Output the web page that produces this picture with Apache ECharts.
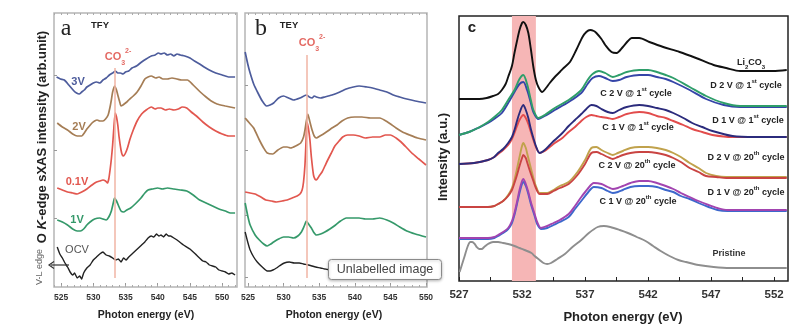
<!DOCTYPE html>
<html><head><meta charset="utf-8">
<script src="https://cdn.jsdelivr.net/npm/echarts@6/dist/echarts.min.js"></script>
<style>html,body{margin:0;padding:0;background:#fff}#c{width:810px;height:331px}</style>
</head><body><div id="c"></div>
<script>
// ---------- tick labels ----------
const ticksAB = [525, 530, 535, 540, 545, 550];
const minorAB = [524,525,526,527,528,529,530,531,532,533,534,535,536,537,538,539,540,541,542,543,544,545,546,547,548,549,550,551,552];
const ticksC = [527, 532, 537, 542, 547, 552];
const minorC = [527, 529.5, 532, 534.5, 537, 539.5, 542, 544.5, 547, 549.5, 552];
const co3Energy = 533.3;
const bandC = [531.2, 533.1];

// ---------- panel a (TFY) : [photon energy eV, intensity arb.] ----------
const tfy3V = [[524.3,210],[524.9,208],[525.5,207],[526.2,202],[527.0,196],[527.4,194],[527.8,193],[528.2,195],[528.6,197],[529.0,200],[529.5,202],[530.0,204],[530.5,205],[531.0,204],[531.5,207],[532.0,209],[532.5,212],[533.0,214],[533.4,216],[533.8,214],[534.2,214],[534.6,213],[535.0,215],[535.5,216],[536.0,219],[536.7,221],[537.5,225],[538.2,228],[539.0,231],[539.6,232],[540.1,234],[540.5,233],[541.0,234],[541.5,232],[542.0,233],[542.5,231],[543.0,233],[543.5,232],[544.2,231],[545.0,229],[545.7,226],[546.5,223],[547.2,220],[548.0,217],[549.0,214],[550.0,212],[551.0,210],[552.0,210]];
const tfy2V = [[524.4,164],[525.2,160],[526.0,157],[526.8,153],[527.5,151],[528.2,151],[528.6,154],[529.0,158],[529.4,161],[529.8,164],[530.2,166],[530.6,167],[531.0,166],[531.5,166],[531.9,168],[532.3,172],[532.6,180],[532.8,187],[533.0,195],[533.3,201],[533.6,197],[533.8,192],[534.1,185],[534.3,181],[534.6,182],[534.8,183],[535.2,185],[535.5,187],[536.2,191],[536.8,195],[537.4,201],[538.0,208],[538.5,210],[539.0,211],[539.7,209],[540.2,210],[540.8,208],[541.5,208],[542.2,209],[543.0,208],[543.7,207],[544.6,207],[545.5,202],[546.6,195],[547.5,190],[548.3,186],[549.2,183],[550.5,181],[552.0,179]];
const tfy01V = [[524.4,99],[525.2,97],[526.0,95],[526.8,94],[527.5,93],[528.2,95],[529.0,98],[529.8,102],[530.5,105],[531.0,106],[531.5,107],[531.9,106],[532.2,104],[532.4,108],[532.6,117],[532.8,128],[533.0,142],[533.2,160],[533.4,174],[533.6,170],[533.8,162],[534.0,150],[534.3,137],[534.5,132],[534.7,131],[535.0,134],[535.3,139],[535.7,148],[536.2,157],[536.8,166],[537.5,173],[538.2,177],[539.0,180],[539.6,178],[540.0,179],[540.5,179],[541.2,177],[541.8,178],[542.5,177],[543.2,178],[543.8,180],[544.5,179],[545.2,175],[546.0,171],[547.0,165],[548.0,160],[549.0,156],[550.0,153],[551.0,151],[552.0,151]];
const tfy1V = [[524.4,67],[525.2,65],[526.0,62],[526.8,58],[527.5,56],[528.0,56],[528.5,58],[529.0,62],[529.5,65],[530.2,68],[531.0,69],[531.5,68],[532.0,67],[532.4,70],[532.8,76],[533.1,84],[533.3,89],[533.6,86],[534.0,80],[534.3,76],[534.7,75],[535.2,77],[535.8,79],[536.5,83],[537.4,89],[538.0,94],[538.5,97],[539.2,98],[540.0,99],[540.7,98],[541.5,99],[542.5,98],[543.5,97],[544.5,96],[545.5,92],[546.5,87],[547.5,84],[548.5,81],[549.5,78],[550.5,76],[551.3,74],[552.0,74]];
const tfyOCV = [[524.4,40],[524.8,33],[525.2,29],[525.6,24],[526.0,20],[526.4,15],[526.8,12],[527.1,14],[527.5,9],[527.9,11],[528.2,8],[528.5,14],[529.0,19],[529.5,22],[530.0,27],[530.5,30],[531.0,33],[531.5,35],[532.0,32],[532.5,31],[533.0,29],[533.5,27],[533.9,28],[534.3,25],[534.7,29],[535.1,27],[535.5,30],[536.0,33],[536.5,36],[537.0,39],[537.5,42],[538.0,45],[538.5,49],[539.0,51],[539.4,50],[539.8,53],[540.2,51],[540.5,52],[540.9,50],[541.3,53],[541.7,51],[542.0,51],[542.5,49],[543.2,46],[544.0,42],[545.0,38],[546.0,32],[547.0,26],[547.5,25],[548.0,22],[549.0,20],[549.5,17],[550.0,16],[550.5,15],[551.0,13],[551.5,14],[552.0,12]];

// ---------- panel b (TEY) ----------
const tey3V = [[524.6,235],[525.0,222],[525.3,214],[525.8,203],[526.4,194],[527.0,186],[527.6,181],[528.1,182],[528.6,184],[529.3,189],[530.0,191],[530.7,189],[531.4,187],[532.3,189],[533.2,192],[533.6,190],[534.0,189],[534.3,191],[534.6,190],[535.2,189],[535.8,190],[536.8,192],[537.9,195],[538.8,198],[539.8,200],[540.6,201],[541.7,200],[542.5,199],[543.5,197],[544.5,195],[545.4,192],[546.3,190],[547.3,188],[548.5,186],[550.0,184]];
const tey2V = [[524.6,169],[525.2,164],[525.8,159],[526.6,147],[527.2,139],[527.7,134],[528.5,133],[529.2,137],[530.0,140],[530.5,140],[531.0,139],[531.7,141],[532.4,144],[532.8,150],[533.0,157],[533.2,166],[533.4,173],[533.7,165],[534.0,157],[534.3,151],[534.6,149],[535.1,151],[535.8,154],[536.6,158],[537.5,162],[538.2,166],[539.0,169],[540.0,170],[541.0,170],[542.2,169],[543.5,169],[544.6,165],[545.8,159],[546.7,155],[547.7,152],[548.8,149],[550.0,147]];
const tey01V = [[524.6,95],[525.3,94],[526.0,93],[526.8,90],[527.5,87],[528.3,86],[529.0,85],[529.8,86],[530.5,87],[531.2,89],[531.9,91],[532.3,93],[532.6,97],[532.8,105],[533.0,122],[533.15,145],[533.3,165],[533.5,158],[533.7,147],[533.9,130],[534.2,112],[534.4,108],[534.6,107],[535.0,111],[535.4,115],[535.8,121],[536.2,127],[536.7,134],[537.2,141],[537.8,146],[538.3,150],[539.0,152],[539.8,152],[540.6,151],[541.5,149],[542.5,150],[543.5,150],[544.3,152],[545.0,152],[545.8,149],[546.5,145],[547.2,140],[548.0,134],[549.0,128],[550.0,122]];
const tey1V = [[524.6,84],[525.0,70],[525.3,62],[526.0,52],[526.6,47],[527.2,43],[527.7,41],[528.2,43],[528.6,45],[529.3,48],[530.0,50],[530.7,50],[531.4,49],[532.0,51],[532.5,55],[532.9,61],[533.2,66],[533.5,63],[533.9,59],[534.2,55],[534.6,52],[535.2,53],[535.8,55],[536.5,58],[537.3,62],[538.0,66],[538.8,69],[539.7,69],[540.6,69],[541.5,68],[542.5,68],[543.5,69],[544.5,67],[545.4,64],[546.3,60],[547.3,56],[548.5,53],[550.0,50]];
const teyOCV = [[524.6,55],[525.0,44],[525.3,37],[525.8,30],[526.3,25],[527.0,20],[527.7,16],[528.1,16],[528.5,17],[529.0,19],[529.4,21],[530.1,24],[530.8,25],[531.5,24],[532.2,24],[532.8,23],[533.5,22],[534.0,21],[534.5,20],[535.2,19],[535.8,18],[536.6,17],[537.5,17],[538.7,18],[540.0,19],[541.5,19],[543.0,18],[544.5,16],[546.0,14],[548.0,12],[550.0,11]];

// ---------- panel c ----------
const cLi2CO3 = [[527.0,182],[528.0,182],[528.6,182],[529.2,183],[529.7,185],[530.1,187],[530.4,191],[530.7,197],[530.9,204],[531.2,215],[531.4,228],[531.6,240],[531.8,251],[532.0,258],[532.1,259],[532.3,256],[532.5,248],[532.7,232],[532.9,214],[533.1,201],[533.3,194],[533.6,189],[533.9,193],[534.2,198],[534.6,204],[535.0,209],[535.3,213],[535.8,219],[536.3,231],[536.8,244],[537.1,249],[537.4,251],[537.7,250],[537.9,248],[538.3,242],[538.6,236],[539.1,229],[539.5,228],[540.0,234],[540.4,240],[540.7,243],[541.3,243],[542.1,239],[543.2,234],[544.5,229],[545.8,223],[547.2,216],[548.2,213],[549.3,210],[550.6,210],[551.9,210],[553.0,211]];
const cD2V1 = [[527.0,146],[527.8,149],[528.5,153],[529.3,159],[529.9,165],[530.4,171],[531.0,183],[531.4,191],[531.8,202],[532.1,206],[532.4,197],[532.7,181],[532.9,171],[533.3,163],[533.8,166],[534.6,173],[535.7,181],[536.7,191],[537.2,201],[537.6,207],[538.1,210],[538.6,208],[539.2,204],[539.7,206],[540.3,209],[541.3,211],[542.0,211],[542.7,209],[543.4,206],[544.0,203],[545.3,194],[546.6,185],[548.0,178],[549.3,175],[551.0,175],[553.0,175]];
const cC2V1 = [[527.0,146],[527.8,149],[528.5,153],[529.3,158],[529.9,163],[530.4,168],[531.0,180],[531.4,189],[531.8,197],[532.1,199],[532.4,191],[532.7,178],[532.9,169],[533.3,162],[533.8,165],[534.6,171],[535.7,179],[536.7,188],[537.2,197],[537.6,203],[538.1,205],[538.6,203],[539.2,200],[539.7,201],[540.3,204],[541.3,206],[542.0,206],[542.7,204],[543.4,202],[544.0,199],[545.3,191],[546.6,182],[548.0,176],[549.3,174],[551.0,174],[553.0,174]];
const cD1V1 = [[527.0,117],[528.2,118],[529.3,121],[529.8,124],[530.1,128],[530.5,132],[530.9,138],[531.2,144],[531.4,151],[531.6,160],[531.8,168],[532.1,176],[532.3,171],[532.5,163],[532.7,152],[532.9,143],[533.1,135],[533.4,128],[533.8,131],[534.2,136],[534.6,141],[535.2,148],[535.7,155],[536.2,161],[536.7,167],[537.1,172],[537.5,176],[537.9,175],[538.3,172],[538.8,169],[539.2,168],[539.7,171],[540.3,174],[541.3,176],[542.0,175],[542.7,173],[543.4,171],[544.0,168],[544.8,163],[545.5,158],[546.3,154],[547.1,150],[548.7,145],[550.5,144],[553.0,144]];
const cC1V1 = [[527.0,117],[528.2,118],[529.3,121],[529.8,124],[530.1,127],[530.5,131],[530.9,136],[531.2,142],[531.4,148],[531.6,155],[531.8,161],[532.1,166],[532.3,163],[532.5,157],[532.7,149],[532.9,141],[533.1,134],[533.4,128],[533.8,130],[534.2,134],[534.6,138],[535.2,143],[535.7,149],[536.2,154],[536.7,160],[537.1,164],[537.5,166],[537.9,165],[538.3,164],[538.8,163],[539.2,162],[539.7,164],[540.3,167],[541.3,169],[542.0,168],[542.7,165],[543.4,163],[544.0,160],[544.8,156],[545.5,152],[546.3,149],[547.1,146],[548.7,144],[550.5,144],[553.0,144]];
const cD2V20 = [[527.0,74],[528.2,74],[529.3,74],[529.8,75],[530.1,77],[530.5,80],[530.9,86],[531.2,93],[531.4,101],[531.6,112],[531.8,124],[532.0,135],[532.1,138],[532.3,133],[532.4,128],[532.6,118],[532.9,103],[533.1,95],[533.4,88],[534.0,88],[534.5,91],[535.0,95],[535.7,99],[536.4,109],[537.0,121],[537.5,133],[537.9,134],[538.3,131],[538.8,128],[539.2,126],[539.6,128],[540.0,130],[540.6,133],[541.3,134],[542.0,134],[542.7,133],[543.4,131],[544.0,128],[544.6,124],[545.3,118],[546.0,113],[546.6,108],[547.4,105],[548.2,104],[550.0,104],[553.0,104]];
const cC2V20 = [[527.0,74],[528.2,74],[529.3,74],[529.8,75],[530.1,77],[530.5,80],[530.9,85],[531.2,91],[531.4,98],[531.6,106],[531.8,115],[532.0,123],[532.1,126],[532.3,123],[532.4,119],[532.6,111],[532.9,100],[533.1,93],[533.4,87],[534.0,87],[534.5,90],[535.0,93],[535.7,97],[536.4,106],[537.0,117],[537.5,128],[537.9,129],[538.3,127],[538.8,124],[539.2,122],[539.6,124],[540.0,126],[540.6,128],[541.3,129],[542.0,129],[542.7,128],[543.4,126],[544.0,123],[544.6,119],[545.3,113],[546.0,109],[546.6,105],[547.4,104],[548.2,103],[550.0,103],[553.0,103]];
const cD1V20 = [[527.0,43],[528.2,43],[529.3,43],[529.8,44],[530.1,46],[530.5,49],[530.9,53],[531.2,60],[531.4,68],[531.6,79],[531.8,91],[532.0,100],[532.1,102],[532.3,97],[532.5,89],[532.7,79],[533.0,67],[533.2,59],[533.5,53],[534.0,55],[534.5,58],[535.0,61],[535.7,67],[536.2,75],[536.7,84],[537.2,92],[537.7,98],[538.3,97],[538.8,94],[539.2,92],[539.6,93],[540.0,95],[540.6,98],[541.3,100],[542.0,100],[542.7,98],[543.4,95],[544.0,92],[544.6,88],[545.3,84],[546.0,80],[546.8,76],[547.5,73],[548.3,71],[550.0,71],[553.0,71]];
const cC1V20 = [[527.0,42],[528.2,42],[529.3,42],[529.8,43],[530.1,45],[530.5,48],[530.9,52],[531.2,58],[531.4,66],[531.6,77],[531.8,88],[532.0,97],[532.1,99],[532.3,95],[532.5,87],[532.7,77],[533.0,65],[533.2,57],[533.5,52],[534.0,53],[534.5,56],[535.0,59],[535.7,64],[536.2,72],[536.7,80],[537.2,88],[537.7,94],[538.3,93],[538.8,90],[539.2,88],[539.6,89],[540.0,91],[540.6,94],[541.3,95],[542.0,95],[542.7,94],[543.4,91],[544.0,89],[544.6,85],[545.3,82],[546.0,78],[546.8,74],[547.5,71],[548.3,70],[550.0,70],[553.0,70]];
const cPristine = [[527.05,9],[527.25,17],[527.45,25],[527.7,35],[527.9,39],[528.05,39],[528.25,37],[528.4,34],[528.6,32],[528.8,32],[529.0,34],[529.3,37],[529.7,39],[530.1,39],[530.5,38],[530.9,37],[531.4,35],[531.8,33],[532.2,31],[532.75,28],[533.0,25],[533.4,21],[533.7,18],[534.0,17],[534.3,18],[534.8,22],[535.4,27],[536.0,34],[536.7,41],[537.3,48],[538.0,54],[538.5,55],[539.0,54],[539.75,51],[540.4,48],[541.1,44],[541.8,40],[542.4,35],[543.0,30],[543.7,25],[544.4,21],[545.0,19],[546.0,16],[547.2,14],[548.5,13],[549.8,13],[551.5,13],[553.0,13]];

const FONT = '"Liberation Sans", Arial, sans-serif';
const chart = echarts.init(document.getElementById('c'), null, {renderer: 'canvas'});

function ln(data, xi, yi, color, width, z, smooth) {
  return {type: 'line', data, xAxisIndex: xi, yAxisIndex: yi, showSymbol: false, silent: true,
    smooth: smooth, z: z || 3, lineStyle: {color, width}, animation: false};
}
function xMain(grid, min, max, labels, ticks, tickColor, fs, margin, tickLen) {
  return {type: 'value', gridIndex: grid, min, max, position: 'bottom',
    axisLine: {show: false}, splitLine: {show: false},
    axisTick: {show: true, inside: true, length: tickLen, customValues: ticks, lineStyle: {color: tickColor, width: 1}},
    axisLabel: {show: true, customValues: labels, fontSize: fs, fontWeight: 'bold', color: '#333', fontFamily: FONT, margin}};
}
function xTicksOnly(grid, min, max, pos, ticks, len, color) {
  return {type: 'value', gridIndex: grid, min, max, position: pos,
    axisLine: {show: false}, splitLine: {show: false}, axisLabel: {show: false},
    axisTick: {show: true, inside: true, length: len, customValues: ticks, lineStyle: {color, width: 1}}};
}
function yAx(grid, max, ticks, color) {
  return {type: 'value', gridIndex: grid, min: 0, max,
    axisLine: {show: false}, splitLine: {show: false}, axisLabel: {show: false},
    axisTick: {show: ticks.length > 0, inside: true, length: 3, customValues: ticks, lineStyle: {color, width: 1}}};
}
function txt(x, y, text, opts) {
  const o = Object.assign({fontSize: 10, fontWeight: 'bold', fill: '#222', rot: 0, align: 'center', family: FONT, rich: null, z: 50}, opts || {});
  const style = {text, x: 0, y: 0, fill: o.fill, fontSize: o.fontSize, fontWeight: o.fontWeight, fontFamily: o.family,
    align: o.align, verticalAlign: 'middle'};
  if (o.rich) style.rich = o.rich;
  return {type: 'text', x, y, rotation: o.rot, z: o.z, silent: true, style};
}
function richSupSub(fs, fill) {
  const small = Math.round(fs * 0.65);
  const lh = Math.round(fs * 1.7);
  return {
    b: {fontSize: fs, fontWeight: 'bold', fill, fontFamily: FONT, lineHeight: lh},
    sub: {fontSize: small, fontWeight: 'bold', fill, fontFamily: FONT, verticalAlign: 'bottom', lineHeight: small + 2},
    sup: {fontSize: small, fontWeight: 'bold', fill, fontFamily: FONT, verticalAlign: 'top', lineHeight: small + 1}
  };
}
const co3Color = '#e46a64';
const cLabFs = 9;

const option = {
  backgroundColor: '#fff',
  animation: false,
  grid: [
    {left: 54, top: 13, width: 183, height: 274, show: true, borderColor: '#b5b5b5', borderWidth: 1.5, backgroundColor: 'transparent'},
    {left: 245, top: 13, width: 182, height: 274, show: true, borderColor: '#b5b5b5', borderWidth: 1.5, backgroundColor: 'transparent'},
    {left: 459, top: 16, width: 329, height: 265, show: true, borderColor: '#222', borderWidth: 1.5, backgroundColor: 'transparent'}
  ],
  xAxis: [
    xMain(0, 523.9, 552.3, ticksAB, ticksAB, '#999', 8.5, 6, 4),
    xTicksOnly(0, 523.9, 552.3, 'bottom', minorAB, 2, '#aaa'),
    xTicksOnly(0, 523.9, 552.3, 'top', minorAB, 2, '#aaa'),
    xMain(1, 524.58, 550.14, ticksAB, ticksAB, '#999', 8.5, 6, 4),
    xTicksOnly(1, 524.58, 550.14, 'bottom', minorAB, 2, '#aaa'),
    xTicksOnly(1, 524.58, 550.14, 'top', minorAB, 2, '#aaa'),
    xMain(2, 527, 553.1, ticksC, minorC, '#222', 11.5, 8, 4)
  ],
  yAxis: [
    yAx(0, 274, [69, 137, 212], '#999'),
    yAx(1, 274, [10, 72, 137, 202], '#999'),
    yAx(2, 265, [], '#222')
  ],
  series: [
    {type: 'line', xAxisIndex: 0, yAxisIndex: 0, data: [], z: 1, silent: true,
      markLine: {silent: true, symbol: 'none', animation: false, label: {show: false},
        lineStyle: {color: '#f0b4a4', width: 1.5, type: 'solid'}, data: [[{coord: [co3Energy, 219]}, {coord: [co3Energy, 9]}]]}},
    {type: 'line', xAxisIndex: 3, yAxisIndex: 1, data: [], z: 1, silent: true,
      markLine: {silent: true, symbol: 'none', animation: false, label: {show: false},
        lineStyle: {color: '#f0b4a4', width: 1.5, type: 'solid'}, data: [[{coord: [co3Energy, 232]}, {coord: [co3Energy, 9]}]]}},
    {type: 'line', xAxisIndex: 6, yAxisIndex: 2, data: [], z: 1, silent: true,
      markArea: {silent: true, itemStyle: {color: '#f6b6b6', opacity: 1}, data: [[{xAxis: bandC[0]}, {xAxis: bandC[1]}]]}},
    ln(tfy3V, 0, 0, '#4d5c9c', 1.7, 3, 0.2),
    ln(tfy2V, 0, 0, '#a57d55', 1.7, 3, 0.2),
    ln(tfy01V, 0, 0, '#e2574f', 1.7, 3, 0.2),
    ln(tfy1V, 0, 0, '#35996a', 1.7, 3, 0.2),
    ln(tfyOCV, 0, 0, '#222222', 1.4, 3, 0.1),
    ln(tey3V, 3, 1, '#4d5c9c', 1.7, 3, 0.2),
    ln(tey2V, 3, 1, '#a57d55', 1.7, 3, 0.2),
    ln(tey01V, 3, 1, '#e2574f', 1.7, 3, 0.2),
    ln(tey1V, 3, 1, '#35996a', 1.7, 3, 0.2),
    ln(teyOCV, 3, 1, '#222222', 1.4, 3, 0.2),
    ln(cPristine, 6, 2, '#8e8e8e', 1.9, 3, 0.3),
    ln(cC1V20, 6, 2, '#3d68cc', 1.9, 3, 0.3),
    ln(cD1V20, 6, 2, '#a244b0', 1.9, 3, 0.3),
    ln(cD2V20, 6, 2, '#c0a24c', 1.9, 3, 0.3),
    ln(cC2V20, 6, 2, '#c94442', 1.9, 3, 0.3),
    ln(cC1V1, 6, 2, '#e24c4c', 1.9, 3, 0.3),
    ln(cD1V1, 6, 2, '#2b2b7c', 1.9, 3, 0.3),
    ln(cC2V1, 6, 2, '#3545a8', 1.9, 3, 0.3),
    ln(cD2V1, 6, 2, '#2e9e6a', 1.9, 3, 0.3),
    ln(cLi2CO3, 6, 2, '#111111', 1.9, 4, 0.3)
  ],
  graphic: {elements: [
    // panel a
    txt(66, 29, 'a', {fontSize: 24, fontWeight: 'normal', family: '"Liberation Serif", "Times New Roman", serif', fill: '#222'}),
    txt(100, 25, 'TFY', {fontSize: 9.5}),
    txt(118, 57, '{b|CO}{sub|3}{sup|2-}', {rich: richSupSub(11, co3Color), fill: co3Color}),
    txt(78, 82, '3V', {fontSize: 11, fill: '#4d5c9c'}),
    txt(79, 127, '2V', {fontSize: 11, fill: '#a57d55'}),
    txt(77, 182, '0.1V', {fontSize: 11, fill: '#e2574f'}),
    txt(77, 220, '1V', {fontSize: 11, fill: '#35996a'}),
    txt(77, 250, 'OCV', {fontSize: 11, fontWeight: 'normal', fill: '#555'}),
    txt(146, 315, 'Photon energy (eV)', {fontSize: 10.5}),
    txt(42, 137, 'O {i|K}-edge sXAS intensity (arb.unit)', {fontSize: 13, rot: Math.PI / 2,
      rich: {i: {fontSize: 13, fontStyle: 'italic', fontWeight: 'bold', fill: '#222', fontFamily: FONT}}}),
    txt(40, 267, 'V-L edge', {fontSize: 9, fontWeight: 'normal', fill: '#666', rot: Math.PI / 2}),
    {type: 'line', z: 50, silent: true, shape: {x1: 69, y1: 265, x2: 51, y2: 265}, style: {stroke: '#333', lineWidth: 1.2}},
    {type: 'polyline', z: 50, silent: true, shape: {points: [[54, 261.5], [49, 265], [54, 268.5]]}, style: {stroke: '#333', lineWidth: 1.2, fill: null}},
    // panel b
    txt(261, 29, 'b', {fontSize: 24, fontWeight: 'normal', family: '"Liberation Serif", "Times New Roman", serif', fill: '#222'}),
    txt(289, 25, 'TEY', {fontSize: 9.5}),
    txt(312, 43, '{b|CO}{sub|3}{sup|2-}', {rich: richSupSub(11, co3Color), fill: co3Color}),
    txt(334, 315, 'Photon energy (eV)', {fontSize: 10.5}),
    // panel c
    txt(472, 28, 'c', {fontSize: 15, fill: '#222'}),
    txt(443, 157, 'Intensity (a.u.)', {fontSize: 13, rot: Math.PI / 2}),
    txt(623, 317, 'Photon energy (eV)', {fontSize: 13}),
    txt(751, 63, '{b|Li}{sub|2}{b|CO}{sub|3}', {rich: richSupSub(9, '#222')}),
    txt(746, 86, '{b|D 2 V @ 1}{sup|st}{b| cycle}', {rich: richSupSub(cLabFs, '#222')}),
    txt(636, 94, '{b|C 2 V @ 1}{sup|st}{b| cycle}', {rich: richSupSub(cLabFs, '#222')}),
    txt(748, 121, '{b|D 1 V @ 1}{sup|st}{b| cycle}', {rich: richSupSub(cLabFs, '#222')}),
    txt(638, 128, '{b|C 1 V @ 1}{sup|st}{b| cycle}', {rich: richSupSub(cLabFs, '#222')}),
    txt(746, 158, '{b|D 2 V @ 20}{sup|th}{b| cycle}', {rich: richSupSub(cLabFs, '#222')}),
    txt(637, 166, '{b|C 2 V @ 20}{sup|th}{b| cycle}', {rich: richSupSub(cLabFs, '#222')}),
    txt(746, 193, '{b|D 1 V @ 20}{sup|th}{b| cycle}', {rich: richSupSub(cLabFs, '#222')}),
    txt(638, 202, '{b|C 1 V @ 20}{sup|th}{b| cycle}', {rich: richSupSub(cLabFs, '#222')}),
    txt(729, 254, 'Pristine', {fontSize: 9, fill: '#333'}),
    // overlay caption box
    {type: 'rect', z: 100, silent: true, shape: {x: 328.5, y: 259.5, width: 113, height: 20, r: 3},
      style: {fill: '#fff', stroke: '#8a8a8a', lineWidth: 1, shadowBlur: 3, shadowColor: 'rgba(0,0,0,0.25)', shadowOffsetY: 1}},
    txt(385, 270, 'Unlabelled image', {fontSize: 12.5, fontWeight: 'normal', fill: '#444', z: 101})
  ]}
};
chart.setOption(option);
</script></body></html>
